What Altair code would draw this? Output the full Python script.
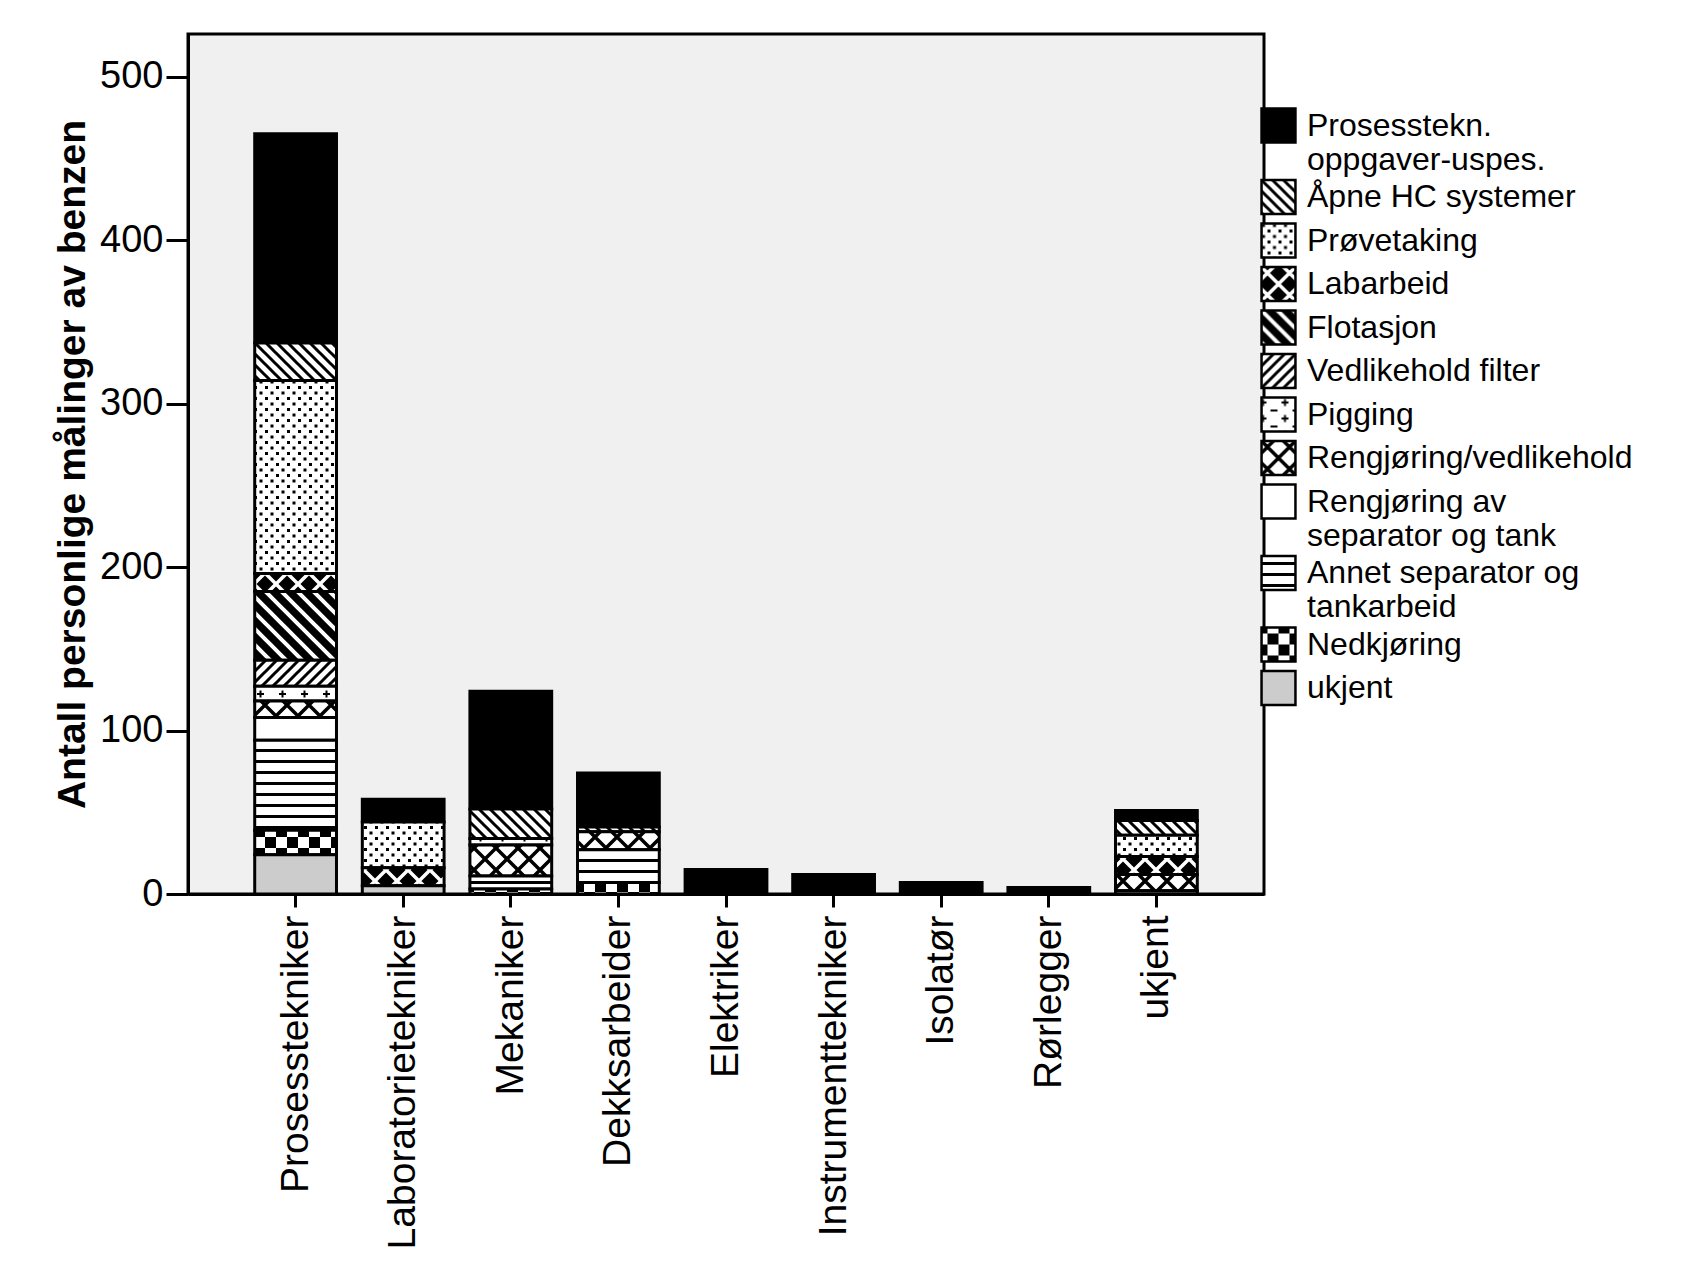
import altair as alt
import pandas as pd
import jinja2

categories = ["Prosesstekniker", "Laboratorietekniker", "Mekaniker", "Dekksarbeider",
              "Elektriker", "Instrumenttekniker", "Isolatør", "Rørlegger", "ukjent"]

tasks = ["Prosesstekn. oppgaver-uspes.", "Åpne HC systemer", "Prøvetaking", "Labarbeid",
         "Flotasjon", "Vedlikehold filter", "Pigging", "Rengjøring/vedlikehold",
         "Rengjøring av separator og tank", "Annet separator og tankarbeid",
         "Nedkjøring", "ukjent"]

# values per task, in category order
prosess_uspes = [128, 14, 72, 33, 15, 12, 7, 4, 6]
aapne_hc      = [23, 0, 18, 3, 0, 0, 0, 0, 9]
provetaking   = [118, 28, 0, 0, 0, 0, 0, 0, 13]
labarbeid     = [11, 11, 0, 0, 0, 0, 0, 0, 11]
flotasjon     = [42, 0, 0, 0, 0, 0, 0, 0, 0]
vedl_filter   = [16, 0, 0, 0, 0, 0, 0, 0, 0]
pigging       = [9, 0, 4, 0, 0, 0, 0, 0, 0]
rengj_vedl    = [10, 0, 19, 11, 0, 0, 0, 0, 10]
rengj_sep     = [14, 0, 0, 0, 0, 0, 0, 0, 0]
annet_sep     = [55, 0, 8, 20, 0, 0, 0, 0, 0]
nedkjoring    = [15, 0, 3, 7, 0, 0, 0, 0, 0]
ukjent        = [24, 5, 0, 0, 0, 0, 0, 0, 2]

series = [prosess_uspes, aapne_hc, provetaking, labarbeid, flotasjon, vedl_filter,
          pigging, rengj_vedl, rengj_sep, annet_sep, nedkjoring, ukjent]

fills = ["#000000", "url(#p_aapne)", "url(#p_prove)", "url(#p_lab)", "url(#p_flot)",
         "url(#p_vedl)", "url(#p_pig)", "url(#p_rengj)", "#ffffff", "url(#p_annet)",
         "url(#p_ned)", "#cccccc"]

rows = []
for ti, (task, vals) in enumerate(zip(tasks, series)):
    for cat, v in zip(categories, vals):
        if v > 0:
            rows.append({"yrke": cat, "oppgave": task, "antall": v,
                         "rekkefolge": len(tasks) - ti})
df = pd.DataFrame(rows)

FONT = "Liberation Sans"

label_expr = ("datum.label == 'Prosesstekn. oppgaver-uspes.' ? ['Prosesstekn.', 'oppgaver-uspes.'] : "
              "datum.label == 'Rengjøring av separator og tank' ? ['Rengjøring av', 'separator og tank'] : "
              "datum.label == 'Annet separator og tankarbeid' ? ['Annet separator og', 'tankarbeid'] : datum.label")

chart = alt.Chart(df).mark_bar(stroke="black", strokeWidth=3, opacity=1).encode(
    x=alt.X("yrke:N", sort=categories,
            scale=alt.Scale(paddingInner=0.24, paddingOuter=0.62),
            axis=alt.Axis(title=None, labelAngle=270, labelAlign="right", labelBaseline="middle",
                          labelFontSize=39, labelFont=FONT, labelColor="black",
                          labelPadding=8, tickSize=13, tickWidth=3, tickColor="black",
                          domainColor="black", domainWidth=3, labelLimit=600)),
    y=alt.Y("antall:Q", stack="zero",
            scale=alt.Scale(domain=[0, 526], nice=False),
            axis=alt.Axis(title="Antall personlige målinger av benzen", values=[0, 100, 200, 300, 400, 500],
                          grid=False, tickSize=22, tickWidth=3, tickColor="black",
                          domainColor="black", domainWidth=3,
                          labelFontSize=38, labelFont=FONT, labelColor="black", labelPadding=3,
                          titleFontSize=39, titleFont=FONT, titleFontWeight="bold",
                          titleColor="black", titlePadding=7)),
    fill=alt.Fill("oppgave:N", scale=alt.Scale(domain=tasks, range=fills),
                  legend=alt.Legend(title=None, orient="none", legendX=1072, legendY=73,
                                    symbolType="square", symbolSize=1150,
                                    symbolStrokeColor="black", symbolStrokeWidth=2.5,
                                    symbolOpacity=1,
                                    labelFontSize=32, labelFont=FONT, labelColor="black",
                                    labelOffset=10, labelLimit=600, rowPadding=-1.5, padding=0,
                                    labelExpr=label_expr)),
    order=alt.Order("rekkefolge:Q", sort="ascending"),
).properties(
    width=1076, height=860,
    autosize=alt.AutoSizeParams(type="none"),
    padding={"left": 180, "top": 26, "right": 400, "bottom": 380},
).configure_view(
    fill="#f0f0f0", stroke="black", strokeWidth=3
)

defs = """
<svg width="0" height="0" style="position:absolute">
 <defs>
  <pattern id="p_aapne" patternUnits="userSpaceOnUse" width="11" height="11">
   <rect width="11" height="11" fill="#fff"/>
   <path d="M-3,8 L3,14 M0,0 L11,11 M8,-3 L14,3" stroke="#000" stroke-width="3"/>
  </pattern>
  <pattern id="p_vedl" patternUnits="userSpaceOnUse" width="11" height="11">
   <rect width="11" height="11" fill="#fff"/>
   <path d="M-3,3 L3,-3 M0,11 L11,0 M8,14 L14,8" stroke="#000" stroke-width="3"/>
  </pattern>
  <pattern id="p_flot" patternUnits="userSpaceOnUse" width="16" height="16">
   <rect width="16" height="16" fill="#000"/>
   <path d="M-4,12 L4,20 M0,0 L16,16 M12,-4 L20,4" stroke="#fff" stroke-width="4"/>
  </pattern>
  <pattern id="p_prove" patternUnits="userSpaceOnUse" width="11" height="11">
   <rect width="11" height="11" fill="#fff"/>
   <rect x="0" y="0" width="3" height="3" fill="#000"/>
   <rect x="5.5" y="5.5" width="3" height="3" fill="#000"/>
  </pattern>
  <pattern id="p_lab" patternUnits="userSpaceOnUse" width="22" height="22">
   <rect width="22" height="22" fill="#000"/>
   <path d="M0,0 L22,22 M22,0 L0,22" stroke="#fff" stroke-width="3.5"/>
  </pattern>
  <pattern id="p_rengj" patternUnits="userSpaceOnUse" width="22" height="22">
   <rect width="22" height="22" fill="#fff"/>
   <path d="M0,0 L22,22 M22,0 L0,22" stroke="#000" stroke-width="3.5"/>
  </pattern>
  <pattern id="p_pig" patternUnits="userSpaceOnUse" width="22" height="16">
   <rect width="22" height="16" fill="#fff"/>
   <path d="M3,4 L10,4 M6.5,0.5 L6.5,7.5 M14,12 L21,12" stroke="#000" stroke-width="2"/>
  </pattern>
  <pattern id="p_annet" patternUnits="userSpaceOnUse" width="11" height="11">
   <rect width="11" height="11" fill="#fff"/>
   <rect x="0" y="0" width="11" height="3" fill="#000"/>
  </pattern>
  <pattern id="p_ned" patternUnits="userSpaceOnUse" width="22" height="22">
   <rect width="22" height="22" fill="#fff"/>
   <rect x="0" y="0" width="11" height="11" fill="#000"/>
   <rect x="11" y="11" width="11" height="11" fill="#000"/>
  </pattern>
 </defs>
</svg>
"""

template = jinja2.Template("""<!DOCTYPE html>
<html>
<head>
  <meta charset="utf-8">
  <style>
    #{{ output_div }}.vega-embed { width: 100%; display: flex; }
  </style>
  <script type="text/javascript" src="{{ base_url }}/vega@{{ vega_version }}"></script>
  <script type="text/javascript" src="{{ base_url }}/vega-lite@{{ vegalite_version }}"></script>
  <script type="text/javascript" src="{{ base_url }}/vega-embed@{{ vegaembed_version }}"></script>
</head>
<body>
""" + defs + """
  <div id="{{ output_div }}"></div>
  <script>
    var spec = {{ spec }};
    var opt = {{ embed_options }};
    vegaEmbed("#{{ output_div }}", spec, opt).catch(console.error);
  </script>
</body>
</html>
""")

chart.save("out.html", embed_options={"renderer": "svg", "actions": False}, template=template)
